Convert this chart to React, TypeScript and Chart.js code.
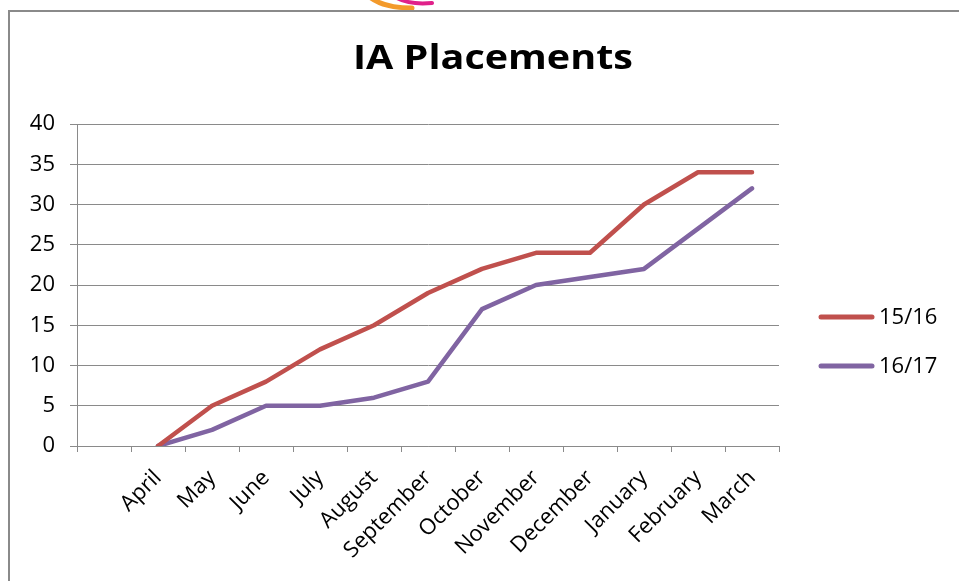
import React, { useEffect, useRef } from "react";
import { Chart, registerables } from "chart.js";

Chart.register(...registerables);

const TITLE = "IA Placements";
const MONTHS = ["", "April", "May", "June", "July", "August", "September", "October", "November", "December", "January", "February", "March"];
const SERIES_NAMES = ["15/16", "16/17"];
const VALUES_1516 = [null, 0, 5, 8, 12, 15, 19, 22, 24, 24, 30, 34, 34];
const VALUES_1617 = [null, 0, 2, 5, 5, 6, 8, 17, 20, 21, 22, 27, 32];
const COLORS = ["#C0504D", "#8064A2"];
const Y_MIN = 0;
const Y_MAX = 40;
const Y_STEP = 5;

const FONT = "'Open Sans', 'Noto Sans', sans-serif";

const decorPlugin = {
  id: "decor",
  beforeDraw(chart: any) {
    const ctx = chart.ctx;
    ctx.save();
    ctx.fillStyle = "#ffffff";
    ctx.fillRect(0, 0, chart.width, chart.height);
    // partial logo at top
    ctx.lineCap = "round";
    ctx.strokeStyle = "#F39A2B";
    ctx.lineWidth = 5;
    ctx.beginPath();
    ctx.moveTo(371, -2);
    ctx.quadraticCurveTo(385, 8, 412, 8);
    ctx.stroke();
    ctx.strokeStyle = "#E0218A";
    ctx.lineWidth = 4;
    ctx.beginPath();
    ctx.moveTo(397, -2);
    ctx.quadraticCurveTo(410, 5, 432, 3);
    ctx.stroke();
    // frame
    ctx.strokeStyle = "#8a8a8a";
    ctx.lineWidth = 2;
    ctx.lineCap = "butt";
    ctx.beginPath();
    ctx.moveTo(9, chart.height + 2);
    ctx.lineTo(9, 11);
    ctx.lineTo(chart.width + 2, 11);
    ctx.stroke();
    ctx.restore();
  },
  afterDraw(chart: any) {
    const ctx = chart.ctx;
    ctx.save();
    // title
    ctx.font = `bold 34px ${FONT}`;
    ctx.fillStyle = "#000000";
    ctx.textBaseline = "alphabetic";
    ctx.textAlign = "center";
    const w = ctx.measureText(TITLE).width;
    const sx = 280 / w;
    ctx.translate(493, 69);
    ctx.scale(sx, 1);
    ctx.fillText(TITLE, 0, 0);
    ctx.restore();

    // legend
    ctx.save();
    const ys = [317, 366];
    SERIES_NAMES.forEach((name, i) => {
      ctx.strokeStyle = COLORS[i];
      ctx.lineWidth = 5;
      ctx.lineCap = "round";
      ctx.beginPath();
      ctx.moveTo(821, ys[i]);
      ctx.lineTo(872, ys[i]);
      ctx.stroke();
      ctx.font = `22px ${FONT}`;
      ctx.fillStyle = "#000000";
      ctx.textAlign = "left";
      ctx.textBaseline = "middle";
      ctx.fillText(name, 879, ys[i] + 1);
    });
    ctx.restore();
  },
};

export default function App() {
  const ref = useRef<HTMLCanvasElement | null>(null);
  useEffect(() => {
    if (!ref.current) return;
    const chart = new Chart(ref.current, {
      type: "line",
      data: {
        labels: MONTHS,
        datasets: [
          {
            label: SERIES_NAMES[0],
            data: VALUES_1516,
            borderColor: COLORS[0],
            backgroundColor: COLORS[0],
            borderWidth: 4.5,
            pointRadius: 0,
            tension: 0,
            borderCapStyle: "round",
            borderJoinStyle: "round",
          },
          {
            label: SERIES_NAMES[1],
            data: VALUES_1617,
            borderColor: COLORS[1],
            backgroundColor: COLORS[1],
            borderWidth: 4.5,
            pointRadius: 0,
            tension: 0,
            borderCapStyle: "round",
            borderJoinStyle: "round",
          },
        ],
      },
      options: {
        responsive: false,
        animation: false,
        devicePixelRatio: 1,
        layout: { padding: { left: 0, right: 180, top: 124, bottom: 0 } },
        plugins: {
          legend: { display: false },
          title: { display: false },
          tooltip: { enabled: false },
        },
        scales: {
          x: {
            type: "category",
            offset: true,
            grid: {
              display: true,
              offset: true,
              drawOnChartArea: false,
              drawTicks: true,
              tickLength: 6,
              color: "#8a8a8a",
            },
            border: { display: true, color: "#8a8a8a", width: 1 },
            ticks: {
              autoSkip: false,
              minRotation: 45,
              maxRotation: 45,
              padding: 13,
              color: "#000000",
              font: { family: FONT, size: 22 },
            },
            afterFit(scale: any) {
              scale.height = 135;
            },
          },
          y: {
            min: Y_MIN,
            max: Y_MAX,
            grid: {
              display: true,
              color: "#8a8a8a",
              lineWidth: 1,
              drawTicks: true,
              tickLength: 7,
            },
            border: { display: true, color: "#8a8a8a", width: 1 },
            ticks: {
              stepSize: Y_STEP,
              padding: 15,
              color: "#000000",
              font: { family: FONT, size: 22 },
            },
            afterFit(scale: any) {
              scale.width = 77;
            },
          },
        },
      },
      plugins: [decorPlugin],
    });
    return () => chart.destroy();
  }, []);
  return (
    <div style={{ position: "fixed", left: 0, top: 0, width: 959, height: 581, background: "#fff" }}>
      <canvas ref={ref} width={959} height={581} style={{ display: "block" }} />
    </div>
  );
}
